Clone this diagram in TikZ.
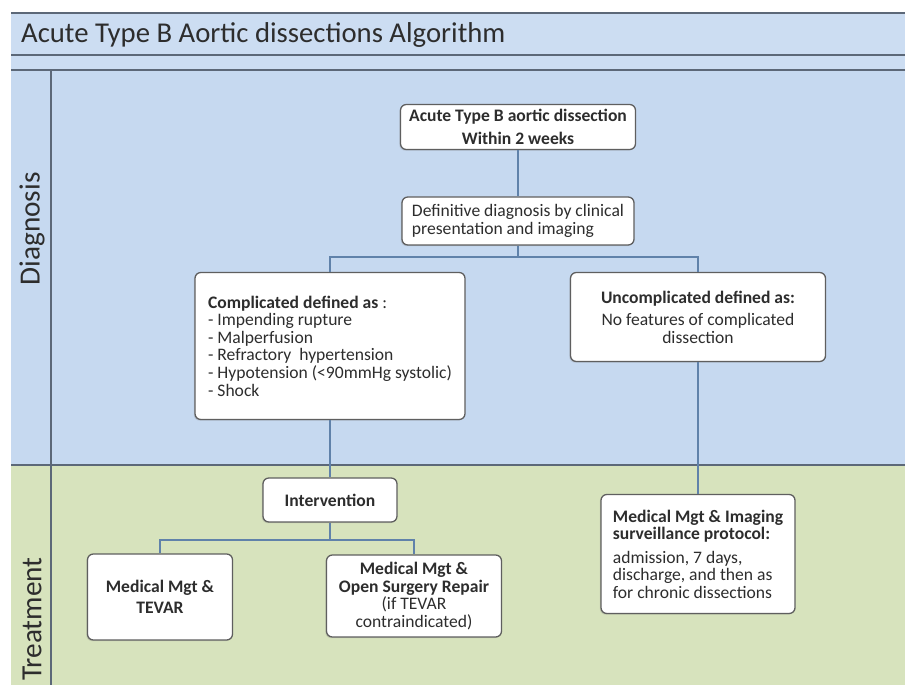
\documentclass[tikz,border=0pt]{standalone}
\usepackage{fontspec}
\setmainfont{Carlito}
\usetikzlibrary{shadows}
\definecolor{diagblue}{RGB}{198,217,240}
\definecolor{bandblue}{RGB}{204,221,242}
\definecolor{treatgreen}{RGB}{215,227,189}
\definecolor{rulegray}{RGB}{92,104,120}
\definecolor{linkblue}{RGB}{96,130,170}
\definecolor{boxgray}{RGB}{95,95,95}
\definecolor{txtgray}{RGB}{45,45,45}
\begin{document}
\begin{tikzpicture}[x=0.03cm, y=-0.03cm,
  box/.style={draw=boxgray, line width=1.1pt, rounded corners=5pt, fill=white,
    align=center, text=txtgray, inner sep=2pt,
    font=\fontsize{15}{15}\selectfont,
    drop shadow={shadow xshift=-1pt, shadow yshift=-1pt, opacity=0.25}},
  boxl/.style={box, align=left},
  link/.style={draw=linkblue, line width=0.9pt},
  rule/.style={draw=rulegray, line width=1.3pt},
  side/.style={rotate=90, text=txtgray, font=\fontsize{25}{28}\selectfont}
]
\useasboundingbox (0,0) rectangle (905,685);
% bands
\fill[bandblue] (11,13) rectangle (905,70);
\fill[diagblue] (11,70) rectangle (905,465);
\fill[treatgreen] (11,465) rectangle (905,685);
\draw[rule] (11,13) -- (905,13);
\draw[rule] (11,55) -- (905,55);
\draw[rule] (11,70) -- (905,70);
\draw[rule] (11,465) -- (905,465);
\draw[rule] (51,70) -- (51,685);
\node[anchor=west, text=txtgray, font=\fontsize{24.5}{28}\selectfont] (title) at (17,35) {Acute Type B Aortic dissections Algorithm};
\node[side] (diaglbl) at (32,229) {Diagnosis};
\node[side] (treatlbl) at (32,619) {Treatment};

% diagnosis
\node[box, minimum width=7.05cm, minimum height=1.35cm] (acute) at (518,127) {\textbf{Acute Type B aortic dissection}\\[4pt]\textbf{Within 2 weeks}};
\node[boxl, minimum width=6.96cm, minimum height=1.44cm] (defin) at (518,221) {Definitive diagnosis by clinical\\presentation and imaging};
\node[boxl, minimum width=8.1cm, minimum height=4.41cm] (compl) at (330,346) {\textbf{Complicated defined as} :\\- Impending rupture\\- Malperfusion\\- Refractory\ \ hypertension\\- Hypotension (<90mmHg systolic)\\- Shock};
\node[box, minimum width=7.65cm, minimum height=2.67cm] (uncompl) at (698,317) {\textbf{Uncomplicated defined as:}\\[4pt]No features of complicated\\dissection};

% treatment
\node[box, minimum width=4.02cm, minimum height=1.32cm] (interv) at (330,500) {\textbf{Intervention}};
\node[box, minimum width=4.35cm, minimum height=2.58cm] (tevar) at (160,597) {\textbf{Medical Mgt \&}\\[3pt]\textbf{TEVAR}};
\node[box, minimum width=5.25cm, minimum height=2.46cm] (open) at (414,596) {\textbf{Medical Mgt \&}\\\textbf{Open Surgery Repair}\\(if TEVAR\\contraindicated)};
\node[boxl, minimum width=5.82cm, minimum height=3.57cm] (imaging) at (698,554) {\textbf{Medical Mgt \& Imaging}\\\textbf{surveillance protocol:}\\[5pt]admission, 7 days,\\discharge, and then as\\for chronic dissections};

\coordinate (split1) at (518,257);
\coordinate (split2) at (330,540);
\draw[link] (acute) -- (defin);
\draw[link] (defin) -- (split1);
\draw[link] (compl.north) |- (split1) -| (uncompl.north);
\draw[link] (compl) -- (interv);
\draw[link] (uncompl) -- (imaging);
\draw[link] (interv) -- (split2);
\draw[link] (tevar.north) |- (split2) -| (open.north);
\end{tikzpicture}
\end{document}
